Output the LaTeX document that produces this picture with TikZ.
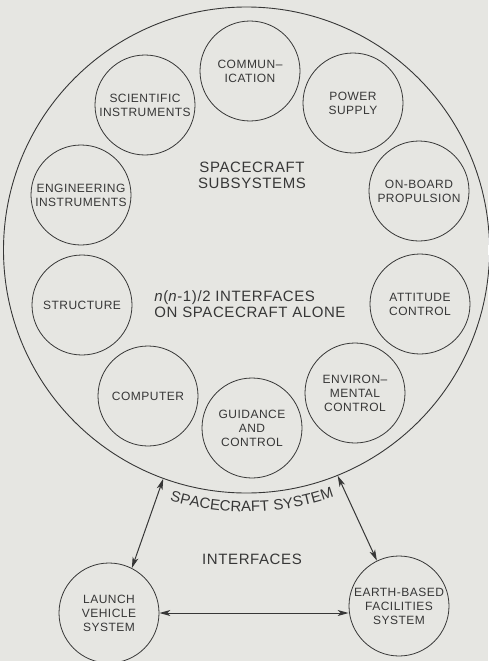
\documentclass[tikz,border=0pt]{standalone}
\usepackage{fontspec}
\setmainfont{Liberation Sans}[LetterSpace=4]
\usetikzlibrary{arrows.meta,decorations.text}
\definecolor{bg}{RGB}{230,230,226}
\definecolor{ink}{RGB}{55,55,55}
\begin{document}
\begin{tikzpicture}[x=1pt,y=-1pt,
  sub/.style={circle,draw=ink,line width=0.8pt,minimum size=100pt,inner sep=0pt,align=center,
    font=\fontsize{12}{14}\selectfont,text=ink},
  lbl/.style={align=center,font=\fontsize{15}{16}\selectfont,text=ink},
  link/.style={draw=ink,line width=1pt,
    {Stealth[length=11pt,width=6pt,inset=3pt]}-{Stealth[length=11pt,width=6pt,inset=3pt]}}]
\fill[bg] (0,0) rectangle (488,661);
\useasboundingbox (0,0) rectangle (488,661);
% big spacecraft circle
\node[circle,draw=ink,line width=0.9pt,minimum size=486pt,inner sep=0pt] (sys) at (246.5,250) {};
% subsystems
\node[sub] (comm) at (250,71) {COMMUN–\\ICATION};
\node[sub] (power) at (353,103) {POWER\\SUPPLY};
\node[sub] (sci) at (145,105) {SCIENTIFIC\\INSTRUMENTS};
\node[sub] (eng) at (81,195) {ENGINEERING\\INSTRUMENTS};
\node[sub] (prop) at (419,191) {ON-BOARD\\PROPULSION};
\node[sub] (struct) at (82,305) {STRUCTURE};
\node[sub] (att) at (420,304) {ATTITUDE\\CONTROL};
\node[sub] (comp) at (148,396) {COMPUTER};
\node[sub] (env) at (355,393) {ENVIRON–\\MENTAL\\CONTROL};
\node[sub] (guid) at (252,428) {GUIDANCE\\AND\\CONTROL};
% central labels
\node[lbl] (subs) at (252,175) {SPACECRAFT\\SUBSYSTEMS};
\node[lbl,align=left] (nint) at (250,304) {\textit{n}(\textit{n}-1)/2 INTERFACES\\ON SPACECRAFT ALONE};
% curved system label
\path[decorate,decoration={text along path,text align=center,
   text={|\fontsize{15}{15}\selectfont\color{ink}|SPACECRAFT SYSTEM}}]
   (sys.center) ++(238:262pt) arc[start angle=238,end angle=304.5,radius=262pt];
% external systems
\node[sub] (launch) at (109,613) {LAUNCH\\VEHICLE\\SYSTEM};
\node[sub] (earth) at (399,606) {EARTH-BASED\\FACILITIES\\SYSTEM};
\node[lbl] (intf) at (252,559) {INTERFACES};
% interfaces
\draw[link] (sys.250) -- (launch.63);
\draw[link] (sys.292) -- (earth.116);
\draw[link] (launch.east) -- (launch.east -| earth.west);
\end{tikzpicture}
\end{document}
